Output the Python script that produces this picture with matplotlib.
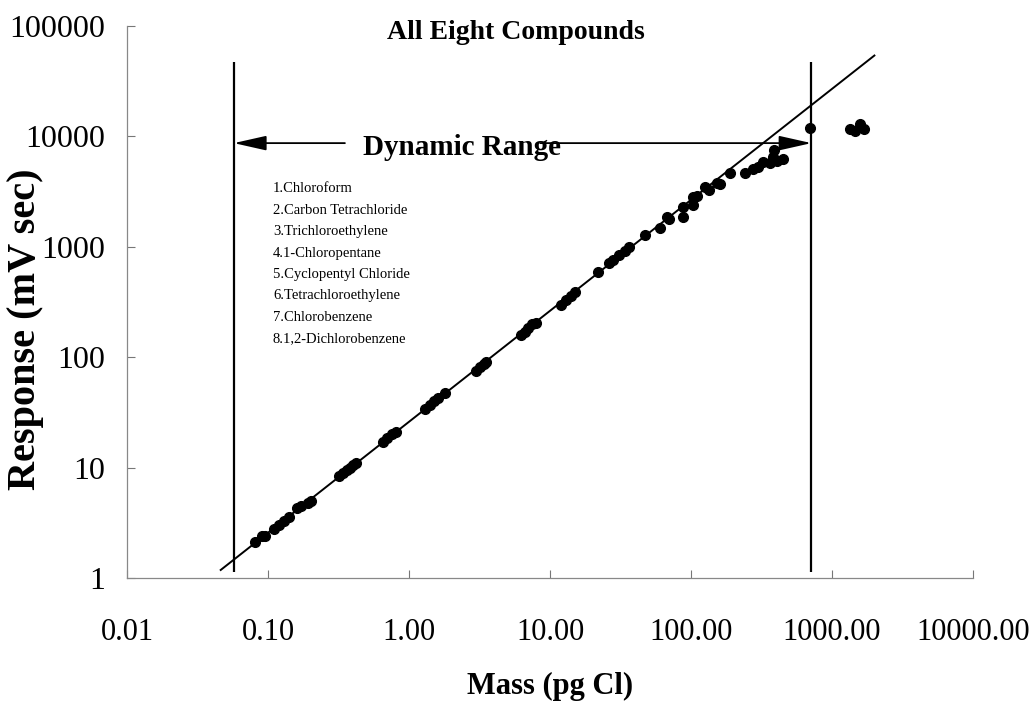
import matplotlib.pyplot as plt
import numpy as np

plt.rcParams['font.family'] = ['Liberation Serif', 'DejaVu Serif']

# data (mass pg Cl, response mV sec)
mass = [0.08, 0.09, 0.095, 0.11, 0.12, 0.13, 0.14, 0.16, 0.17, 0.19, 0.20,
        0.32, 0.34, 0.36, 0.38, 0.40, 0.42,
        0.65, 0.70, 0.75, 0.80,
        1.3, 1.4, 1.5, 1.6, 1.8,
        3.0, 3.2, 3.4, 3.5,
        6.2, 6.6, 7.0, 7.5, 8.0,
        12, 13, 14, 15,
        22, 26, 28, 31, 34, 36,
        47, 60, 68, 70,
        87, 88, 103, 103, 110, 126, 135, 152, 160,
        190, 240, 275, 300, 325, 363, 380, 390, 410, 446,
        703,
        1334, 1450, 1570, 1700]
response = [2.1, 2.4, 2.4, 2.8, 3.0, 3.3, 3.6, 4.3, 4.5, 4.8, 5.0,
            8.4, 9.0, 9.5, 10.0, 10.5, 11.0,
            17, 18.5, 20, 21,
            34, 37, 40, 43, 47,
            75, 82, 87, 90,
            158, 168, 185, 198, 205,
            300, 330, 360, 390,
            590, 710, 760, 850, 920, 1000,
            1280, 1480, 1880, 1800,
            2290, 1880, 2820, 2400, 2900, 3470, 3300, 3790, 3700,
            4660, 4650, 5050, 5300, 5870, 5800, 6500, 7530, 6000, 6250,
            12050,
            11670, 11300, 12900, 11800]

compounds = ['1.Chloroform', '2.Carbon Tetrachloride', '3.Trichloroethylene',
             '4.1-Chloropentane', '5.Cyclopentyl Chloride', '6.Tetrachloroethylene',
             '7.Chlorobenzene', '8.1,2-Dichlorobenzene']

xticks = [0.01, 0.1, 1, 10, 100, 1000, 10000]
xticklabels = ['0.01', '0.10', '1.00', '10.00', '100.00', '1000.00', '10000.00']
yticks = [1, 10, 100, 1000, 10000, 100000]
yticklabels = ['1', '10', '100', '1000', '10000', '100000']

fit_range = [0.046, 2000]      # extent of the trend line
range_limits = [0.057, 715]    # dynamic range bounds
range_y = 8700                 # height of the arrow
range_top = 47000
range_bottom = 1.13

mass = np.array(mass)
response = np.array(response)

fig = plt.figure(figsize=(10.35, 7.02), dpi=100)
ax = fig.add_axes([0.123, 0.1766, 0.817, 0.7863])

# linear fit of log-log data in the linear region
sel = mass < 60
k, b = np.polyfit(np.log10(mass[sel]), np.log10(response[sel]), 1)
fx = np.array(fit_range)
ax.plot(fx, 10 ** (k * np.log10(fx) + b), color='black', lw=1.4, zorder=2)

ax.plot(mass, response, 'o', color='black', markersize=7, zorder=3)

# dynamic range bounds + arrows
ax.vlines(range_limits, range_bottom, range_top, color='black', lw=1.6)
ax.annotate('', xy=(range_limits[0], range_y), xytext=(0.35, range_y),
            arrowprops=dict(arrowstyle='-|>,head_length=2.0,head_width=0.45',
                            color='black', lw=1.3, shrinkA=0, shrinkB=0))
ax.annotate('', xy=(range_limits[1], range_y), xytext=(8.5, range_y),
            arrowprops=dict(arrowstyle='-|>,head_length=2.0,head_width=0.45',
                            color='black', lw=1.3, shrinkA=0, shrinkB=0))
ax.text(2.37, 7900, 'Dynamic Range', fontsize=21, fontweight='bold',
        ha='center', va='center')

# compound list: x in data, y in axes fraction
for i, name in enumerate(compounds):
    ax.text(0.108, 0.705 - i * 0.0388, name, transform=ax.get_xaxis_transform(),
            fontsize=10.5, va='center', ha='left')

ax.set_xscale('log')
ax.set_yscale('log')
ax.set_xlim(0.01, 10000)
ax.set_ylim(1, 100000)
ax.set_xticks(xticks, xticklabels)
ax.set_yticks(yticks, yticklabels)
ax.minorticks_off()
ax.tick_params(axis='both', direction='in', length=6, width=0.8, color='#777777')
ax.tick_params(axis='x', pad=29, labelsize=22)
ax.tick_params(axis='y', pad=16, labelsize=23)

for s in ['top', 'right']:
    ax.spines[s].set_visible(False)
for s in ['left', 'bottom']:
    ax.spines[s].set_color('#888888')
    ax.spines[s].set_linewidth(0.9)

ax.set_xlabel('Mass (pg Cl)', fontsize=22, fontweight='bold')
ax.set_ylabel('Response (mV sec)', fontsize=29, fontweight='bold')
ax.xaxis.set_label_coords(0.5, -0.170)
ax.yaxis.set_label_coords(-0.098, 0.45)

fig.text(0.498, 0.953, 'All Eight Compounds', fontsize=20, fontweight='bold',
         ha='center', va='center')

fig.savefig('out.png', dpi=100)
